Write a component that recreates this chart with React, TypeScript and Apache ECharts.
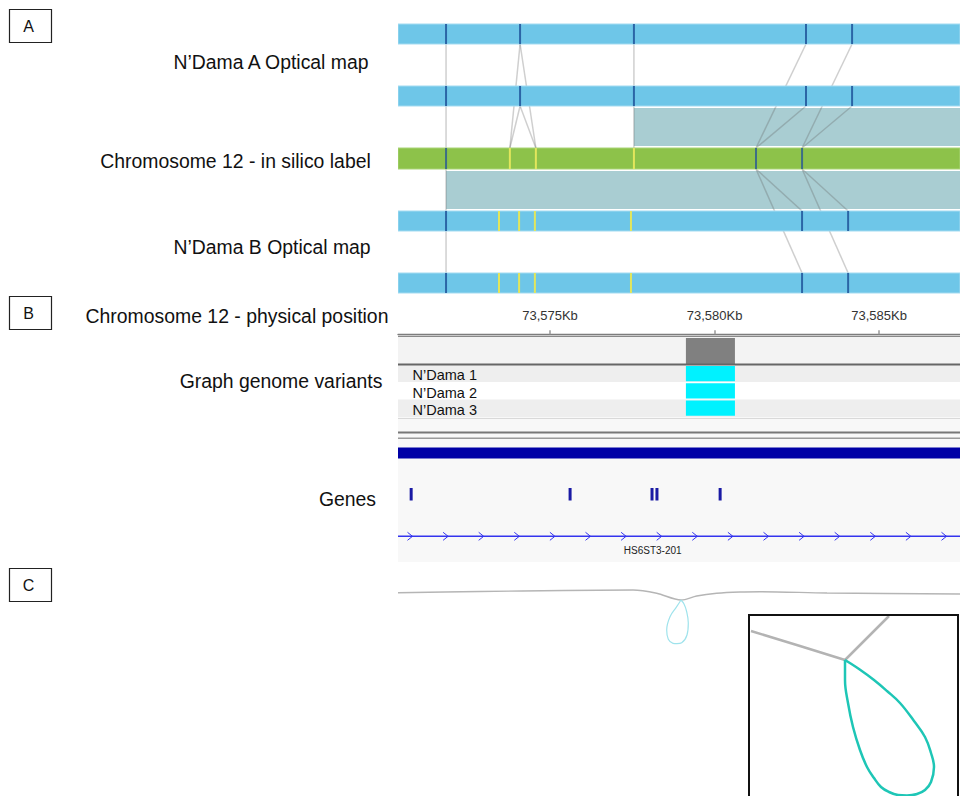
import React, { useEffect, useRef } from "react";
import * as echarts from "echarts";

// ---------------- Data ----------------
const KB_MIN = 73570.38; // left edge of genomic view (Kb)
const KB_MAX = 73587.46; // right edge of genomic view (Kb)
const rulerTicksKb = [73575, 73580, 73585];

const panelLetters = ["A", "B", "C"];
const trackTitles = [
  "N’Dama A Optical map",
  "Chromosome 12 - in silico label",
  "N’Dama B Optical map",
  "Chromosome 12 - physical position",
  "Graph genome variants",
  "Genes",
];

// optical map label positions (Kb)
const mapALabelsKb = [73571.84, 73574.09, 73577.55, 73582.78, 73584.18];
const silicoLabelsKb = [73571.84, 73573.78, 73574.57, 73577.55, 73581.26, 73582.66];
const silicoLabelMatched = [1, 0, 0, 0, 1, 1];
const mapBLabelsKb = [73571.84, 73573.45, 73574.06, 73574.54, 73577.46, 73582.66, 73584.06];
const mapBLabelMatched = [1, 0, 0, 0, 0, 1, 1];

// label-to-label alignment links: [fromTrack, fromKb, toTrack, toKb]
const labelLinks = [
  [0, 73571.84, 2, 73571.84],
  [0, 73574.09, 2, 73573.78],
  [0, 73574.09, 2, 73574.57],
  [0, 73577.55, 2, 73577.55],
  [0, 73582.78, 2, 73581.26],
  [0, 73584.18, 2, 73582.66],
  [1, 73574.09, 2, 73573.78],
  [1, 73574.09, 2, 73574.57],
  [1, 73582.78, 2, 73581.26],
  [1, 73584.18, 2, 73582.66],
  [2, 73571.84, 4, 73571.84],
  [2, 73581.26, 3, 73582.66],
  [2, 73582.66, 3, 73584.06],
  [2, 73581.26, 4, 73582.66],
  [2, 73582.66, 4, 73584.06],
];
// aligned blocks: [upperTrack, lowerTrack, startKb, endKb]
const alignedBlocks = [
  [1, 2, 73577.55, KB_MAX],
  [2, 3, 73571.84, KB_MAX],
];

// graph genome variant
const variantKb = [73579.13, 73580.62];
const sampleNames = ["N’Dama 1", "N’Dama 2", "N’Dama 3"];
const sampleCarriesVariant = [1, 1, 1];

// genes
const geneSpanKb = [KB_MIN, KB_MAX];
const exonsKb = [73570.78, 73575.61, 73578.1, 73578.25, 73580.17];
const transcriptName = "HS6ST3-201";
const transcriptSpanKb = [KB_MIN, KB_MAX];
const transcriptLabelKb = 73578.12;

// panel C graph (layout units of the panel)
const graphBackbone = [
  [0, 22.7], [82, 21.5], [166, 20.5], [235, 20], [258.7, 23.3], [283, 30],
  [298.7, 26], [318.7, 23.3], [342, 22], [362, 21.7], [429, 23], [562, 24],
];
const graphLoop = [
  [283, 30], [278.7, 36.7], [272, 46.7], [268.7, 60], [270.3, 69.3], [275, 73.3],
  [279, 73.6], [283.7, 72.7], [289, 65], [290.3, 53], [288.5, 41], [286, 34], [283, 30],
];
const insetBackboneLeft = [[2, 16], [51, 31], [96, 45]];
const insetBackboneRight = [[96, 45], [118, 23], [140, 1]];
const insetLoop = [
  [96, 45], [96, 65], [99, 88], [104, 112], [111, 135], [118, 152], [125, 163],
  [132, 172], [140, 177], [149, 180], [158, 180.5], [168, 179], [176, 175],
  [182, 167], [185, 152], [182, 138], [176, 122], [165, 106], [151, 88],
  [138, 76], [125, 65], [110, 54], [96, 45],
];

// ---------------- Layout / style ----------------
const FONT = '"Liberation Sans", Arial, Helvetica, sans-serif';
const TRACK_Y = [[24, 44], [86, 106], [148, 169], [211, 231], [273, 293]];
const BLUE = "#6ec6e8";
const GREEN = "#8dc24a";
const DARK_TICK = "#2b65a6";
const SILICO_DARK = "#3c6d86";
const YELLOW = "#e2e65c";
const ALIGN = "#a9cdd2";
const LINK = "rgba(95,95,95,0.3)";

const TITLE_POS = [
  [271, 62], [235.5, 160.5], [272, 247], [237, 316], [281, 381], [347.5, 499],
];
const LETTER_BOX_Y = [9, 296, 568];

function buildOption() {
  const tickData: number[][] = [];
  mapALabelsKb.forEach((k) => tickData.push([0, k, 1]));
  mapALabelsKb.forEach((k) => tickData.push([1, k, 1]));
  silicoLabelsKb.forEach((k, j) => tickData.push([2, k, silicoLabelMatched[j]]));
  mapBLabelsKb.forEach((k, j) => tickData.push([3, k, mapBLabelMatched[j]]));
  mapBLabelsKb.forEach((k, j) => tickData.push([4, k, mapBLabelMatched[j]]));

  const graphic: any[] = [];
  panelLetters.forEach((l, i) => {
    const y = LETTER_BOX_Y[i];
    graphic.push({
      type: "rect",
      shape: { x: 9.5, y: y + 0.5, width: 42, height: 33 },
      style: { fill: "#fff", stroke: "#222", lineWidth: 1.2 },
    });
    graphic.push({
      type: "text",
      x: 28.5,
      y: y + 17,
      style: { text: l, font: `16px ${FONT}`, fill: "#111", align: "center", verticalAlign: "middle" },
    });
  });
  trackTitles.forEach((t, i) => {
    graphic.push({
      type: "text",
      x: TITLE_POS[i][0],
      y: TITLE_POS[i][1],
      style: { text: t, font: `19.4px ${FONT}`, fill: "#111", align: "center", verticalAlign: "middle" },
    });
  });
  graphic.push({
    type: "rect",
    shape: { x: 749, y: 615, width: 209, height: 200 },
    style: { fill: "none", stroke: "#111", lineWidth: 2 },
    z: 100,
  });

  const rectEl = (x: number, y: number, w: number, h: number, fill: string) => ({
    type: "rect",
    shape: { x, y, width: w, height: h },
    style: { fill },
  });
  const lineEl = (x1: number, y1: number, x2: number, y2: number, stroke: string, lw: number) => ({
    type: "line",
    shape: { x1, y1, x2, y2 },
    style: { stroke, lineWidth: lw },
  });

  const base = { type: "custom", xAxisIndex: 0, yAxisIndex: 0, silent: true, clip: true };

  const series: any[] = [
    // panel B frame
    {
      ...base,
      data: [[0]],
      renderItem: (_p: any, api: any) => {
        const L = api.coord([KB_MIN, 0])[0];
        const R = api.coord([KB_MAX, 0])[0];
        const W = R - L;
        const Y = (y: number) => api.coord([KB_MIN, y])[1];
        return {
          type: "group",
          children: [
            rectEl(L, Y(337), W, Y(364) - Y(337), "#f3f3f3"),
            rectEl(L, Y(365), W, 17, "#eeeeee"),
            rectEl(L, Y(382), W, 17.5, "#ffffff"),
            rectEl(L, Y(399.5), W, 17.5, "#eeeeee"),
            rectEl(L, Y(417), W, Y(562) - Y(417), "#f8f8f8"),
            lineEl(L, Y(418.5), R, Y(418.5), "#d9d9d9", 1),
            lineEl(L, Y(336.3), R, Y(336.3), "#8a8a8a", 1.3),
            lineEl(L, Y(432.5), R, Y(432.5), "#777777", 2),
            lineEl(L, Y(438.3), R, Y(438.3), "#9a9a9a", 1.5),
          ],
        };
      },
    },
    // aligned blocks
    {
      ...base,
      data: alignedBlocks,
      renderItem: (_p: any, api: any) => {
        const u = api.value(0), l = api.value(1);
        const a = api.coord([api.value(2), TRACK_Y[u][1] + 2]);
        const b = api.coord([api.value(3), TRACK_Y[l][0] - 2]);
        return rectEl(a[0], a[1], b[0] - a[0], b[1] - a[1], ALIGN);
      },
    },
    // links
    {
      ...base,
      data: labelLinks,
      renderItem: (_p: any, api: any) => {
        const ft = api.value(0), tt = api.value(2);
        const a = api.coord([api.value(1), TRACK_Y[ft][1]]);
        const b = api.coord([api.value(3), TRACK_Y[tt][0]]);
        return lineEl(a[0], a[1], b[0], b[1], LINK, 1.5);
      },
    },
    // map bars
    {
      ...base,
      data: TRACK_Y.map((_, i) => [i]),
      renderItem: (_p: any, api: any) => {
        const i = api.value(0);
        const a = api.coord([KB_MIN, TRACK_Y[i][0]]);
        const b = api.coord([KB_MAX, TRACK_Y[i][1]]);
        return {
          type: "rect",
          shape: { x: a[0], y: a[1], width: b[0] - a[0], height: b[1] - a[1] },
          style: { fill: i === 2 ? GREEN : BLUE, stroke: i === 2 ? "#a9d477" : "#a3dbf1", lineWidth: 1 },
        };
      },
    },
    // label ticks
    {
      ...base,
      data: tickData,
      renderItem: (_p: any, api: any) => {
        const t = api.value(0);
        const m = api.value(2);
        const a = api.coord([api.value(1), TRACK_Y[t][0]]);
        const b = api.coord([api.value(1), TRACK_Y[t][1]]);
        const fill = m ? (t === 2 ? SILICO_DARK : DARK_TICK) : YELLOW;
        return rectEl(a[0] - 1, a[1], 2, b[1] - a[1], fill);
      },
    },
    // variant in graph
    {
      ...base,
      data: [variantKb],
      renderItem: (_p: any, api: any) => {
        const a = api.coord([api.value(0), 338]);
        const b = api.coord([api.value(1), 364]);
        const L = api.coord([KB_MIN, 0])[0];
        const R = api.coord([KB_MAX, 0])[0];
        return {
          type: "group",
          children: [
            rectEl(a[0], a[1], b[0] - a[0], b[1] - a[1], "#808080"),
            lineEl(L, b[1] + 0.4, R, b[1] + 0.4, "#666666", 2),
          ],
        };
      },
    },
    // samples
    {
      ...base,
      data: sampleNames.map((_, i) => [i, variantKb[0], variantKb[1], sampleCarriesVariant[i]]),
      renderItem: (_p: any, api: any) => {
        const i = api.value(0);
        const y0 = 366 + i * 17.2;
        const a = api.coord([api.value(1), y0]);
        const b = api.coord([api.value(2), y0 + 15.3]);
        const L = api.coord([KB_MIN, 0])[0];
        const children: any[] = [
          {
            type: "text",
            x: L + 14.5,
            y: (a[1] + b[1]) / 2 + 1.8,
            style: { text: sampleNames[i], font: `14.5px ${FONT}`, fill: "#111", align: "left", verticalAlign: "middle" },
          },
        ];
        if (api.value(3)) children.push(rectEl(a[0], a[1], b[0] - a[0], b[1] - a[1], "#00f2ff"));
        return { type: "group", children };
      },
    },
    // gene span
    {
      ...base,
      data: [geneSpanKb],
      renderItem: (_p: any, api: any) => {
        const a = api.coord([api.value(0), 447.5]);
        const b = api.coord([api.value(1), 458.5]);
        return rectEl(a[0], a[1], b[0] - a[0], b[1] - a[1], "#0000a6");
      },
    },
    // exons
    {
      ...base,
      data: exonsKb.map((k) => [k]),
      renderItem: (_p: any, api: any) => {
        const a = api.coord([api.value(0), 488]);
        const b = api.coord([api.value(0), 500.5]);
        return rectEl(a[0] - 1.5, a[1], 3, b[1] - a[1], "#1a1aa4");
      },
    },
    // transcript
    {
      ...base,
      data: [[transcriptSpanKb[0], transcriptSpanKb[1], transcriptLabelKb]],
      renderItem: (_p: any, api: any) => {
        const a = api.coord([api.value(0), 536.3]);
        const b = api.coord([api.value(1), 536.3]);
        const lbl = api.coord([api.value(2), 550]);
        const children: any[] = [lineEl(a[0], a[1], b[0], b[1], "#3434ee", 1.5)];
        for (let x = a[0] + 13.5; x < b[0]; x += 35.6) {
          children.push({
            type: "polyline",
            shape: { points: [[x - 4, a[1] - 4], [x + 1, a[1]], [x - 4, a[1] + 4]] },
            style: { stroke: "#3434ee", lineWidth: 1, fill: "none" },
          });
        }
        children.push({
          type: "text",
          x: lbl[0],
          y: lbl[1],
          style: { text: transcriptName, font: `10px ${FONT}`, fill: "#222", align: "center", verticalAlign: "middle" },
        });
        return { type: "group", children };
      },
    },
    // panel C
    {
      type: "line", xAxisIndex: 1, yAxisIndex: 1, data: graphBackbone, smooth: 0.3,
      showSymbol: false, silent: true, lineStyle: { color: "#b5b5b5", width: 1.4 },
    },
    {
      type: "line", xAxisIndex: 1, yAxisIndex: 1, data: graphLoop, smooth: 0.4,
      showSymbol: false, silent: true, lineStyle: { color: "#9fe3ec", width: 1.2 },
    },
    {
      type: "line", xAxisIndex: 2, yAxisIndex: 2, data: insetBackboneLeft, smooth: false,
      showSymbol: false, silent: true, lineStyle: { color: "#b3b3b3", width: 2.5 },
    },
    {
      type: "line", xAxisIndex: 2, yAxisIndex: 2, data: insetBackboneRight, smooth: false,
      showSymbol: false, silent: true, lineStyle: { color: "#b3b3b3", width: 2.5 },
    },
    {
      type: "line", xAxisIndex: 2, yAxisIndex: 2, data: insetLoop, smooth: 0.4,
      showSymbol: false, silent: true, lineStyle: { color: "#1ec6b6", width: 2.5 },
    },
  ];

  const hiddenVal = (gridIndex: number, min: number, max: number, inverse = false) => ({
    type: "value", gridIndex, min, max, inverse, show: false,
    axisLine: { show: false }, axisTick: { show: false }, axisLabel: { show: false }, splitLine: { show: false },
  });

  return {
    animation: false,
    backgroundColor: "#ffffff",
    grid: [
      { left: 398, right: 0, top: 0, bottom: 0, containLabel: false },
      { left: 398, top: 570, width: 562, height: 226 },
      { left: 749, top: 615, width: 209, height: 181 },
      { left: 398, right: 0, top: 333.3, height: 1 },
    ],
    xAxis: [
      hiddenVal(0, KB_MIN, KB_MAX),
      hiddenVal(1, 0, 562),
      hiddenVal(2, 0, 209),
      {
        type: "value", gridIndex: 3, min: KB_MIN, max: KB_MAX, position: "top",
        axisLine: { show: true, lineStyle: { color: "#7d7d7d", width: 1.3 } },
        axisTick: { show: true, customValues: rulerTicksKb, length: 4, lineStyle: { color: "#999", width: 1.5 } },
        axisLabel: {
          show: true, customValues: rulerTicksKb, margin: 11, fontSize: 13, color: "#333", fontFamily: FONT,
          formatter: (v: number) => v.toLocaleString("en-US") + "Kb",
        },
        splitLine: { show: false },
      },
    ],
    yAxis: [
      hiddenVal(0, 0, 796, true),
      hiddenVal(1, 0, 226, true),
      hiddenVal(2, 0, 181, true),
      hiddenVal(3, 0, 1),
    ],
    graphic,
    series,
  };
}

export default function App() {
  const ref = useRef<HTMLDivElement>(null);
  useEffect(() => {
    if (!ref.current) return;
    const chart = echarts.init(ref.current, undefined, { renderer: "svg" });
    chart.setOption(buildOption() as any);
    return () => chart.dispose();
  }, []);
  return (
    <div
      ref={ref}
      style={{ position: "absolute", left: 0, top: 0, width: 960, height: 796, background: "#fff" }}
    />
  );
}
